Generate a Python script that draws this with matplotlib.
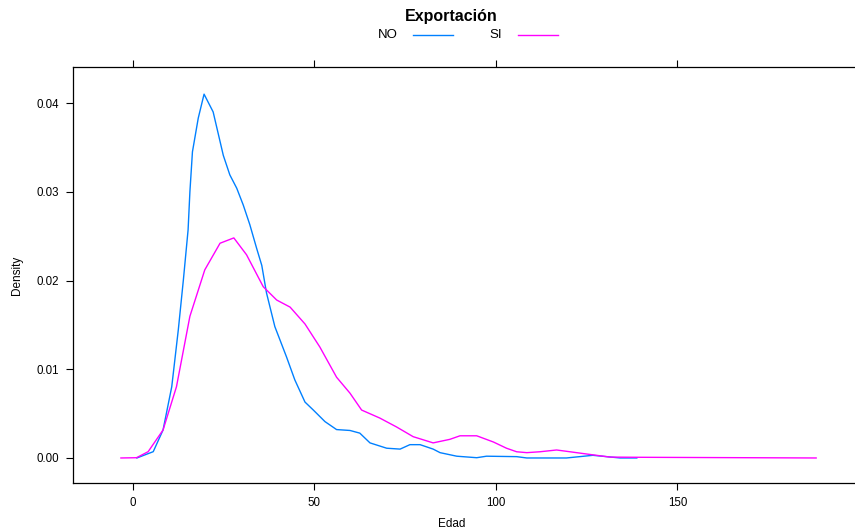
import matplotlib
matplotlib.use("Agg")
import matplotlib.pyplot as plt
from matplotlib.lines import Line2D

plt.rcParams['font.family'] = ['Liberation Sans', 'DejaVu Sans']

# density estimate of Edad for each export group
no_edad = [1.1, 5.6, 8.3, 10.7, 12.5, 13.9, 15.2, 15.7, 16.4, 18.0, 19.6, 22.1,
           24.9, 26.7, 28.6, 30.4, 32.2, 34.1, 35.5, 36.8, 39.1, 42.3, 44.6, 47.4,
           49.7, 52.9, 56.1, 59.8, 62.5, 65.3, 69.9, 73.6, 76.3, 79.1, 82.7, 84.6,
           89.2, 94.7, 97.4, 105.7, 108.5, 119.4, 126.7, 134.2, 138.8]
no_dens = [0.0, 0.00071, 0.00315, 0.00803, 0.01442, 0.02006, 0.0257, 0.0300,
           0.0345, 0.0383, 0.0410, 0.0390, 0.0341, 0.0319, 0.0304, 0.0285, 0.0263,
           0.0236, 0.0217, 0.0186, 0.0148, 0.0114, 0.0088, 0.0063, 0.0054, 0.0041,
           0.0032, 0.0031, 0.0028, 0.0017, 0.0011, 0.0010, 0.0015, 0.0015, 0.0010,
           0.0006, 0.0002, 0.00003, 0.0002, 0.00015, 0.0, 0.0, 0.0003, 0.0, 0.0]

si_edad = [-3.3, 1.0, 4.2, 8.3, 12.0, 15.7, 19.8, 24.0, 27.8, 31.3, 35.9, 39.6,
           43.3, 47.4, 51.5, 56.1, 59.8, 63.0, 68.0, 72.6, 77.2, 82.7, 87.3, 90.1,
           94.7, 99.3, 102.9, 105.7, 108.5, 112.1, 116.7, 120.4, 124.0, 127.7,
           131.4, 137.8, 188.2]
si_dens = [0.0, 0.00003, 0.00071, 0.00315, 0.00803, 0.01597, 0.0212, 0.0242,
           0.0248, 0.0229, 0.0193, 0.0178, 0.0170, 0.0151, 0.0125, 0.0091, 0.0073,
           0.0054, 0.0045, 0.0035, 0.0024, 0.0017, 0.0021, 0.0025, 0.0025, 0.0018,
           0.0011, 0.0007, 0.0006, 0.0007, 0.0009, 0.0007, 0.0005, 0.0003, 0.0001,
           0.00008, 0.0]

groups = ["NO", "SI"]
colors = ["#0080ff", "#ff00ff"]
x_ticks = [0, 50, 100, 150]
y_ticks = [0.00, 0.01, 0.02, 0.03, 0.04]

W, H = 855, 531
fig = plt.figure(figsize=(W / 100, H / 100), dpi=100)
# panel runs slightly past the right edge of the device
ax = fig.add_axes([73 / W, (H - 483) / H, (860 - 73) / W, (483 - 67) / H])

ax.plot(no_edad, no_dens, color=colors[0], lw=1.0)
ax.plot(si_edad, si_dens, color=colors[1], lw=1.0)

ax.set_xlim(-16.5, (860 - 133) / 3.63)
ax.set_ylim(-0.00282, 0.04406)
ax.set_xticks(x_ticks)
ax.set_xticklabels([str(t) for t in x_ticks])
ax.set_yticks(y_ticks)
ax.set_yticklabels(["%.2f" % t for t in y_ticks])
ax.tick_params(direction="out", length=5, width=0.8, labelsize=8.3, pad=5,
               top=True, right=False, labeltop=False, labelright=False)
for s in ax.spines.values():
    s.set_linewidth(0.9)

ax.set_xlabel("Edad", fontsize=8.5)
ax.set_ylabel("Density", fontsize=8.5)
ax.xaxis.set_label_coords((452 - 73) / (860 - 73), -0.085)
ax.yaxis.set_label_coords(-0.064, 0.5)

# key on top
fig.text(451 / W, 1 - 16 / H, "Exportación", ha="center", va="center",
         fontsize=11.5, fontweight="bold")
fig.text(388 / W, 1 - 35 / H, groups[0], ha="center", va="center", fontsize=9.5)
fig.text(496 / W, 1 - 35 / H, groups[1], ha="center", va="center", fontsize=9.5)
for (x0, x1), c in zip([(413, 453), (518, 558)], colors):
    fig.add_artist(Line2D([x0 / W, x1 / W], [1 - 35 / H, 1 - 35 / H],
                          transform=fig.transFigure, color=c, lw=1.0))

fig.savefig("out.png", dpi=100)
